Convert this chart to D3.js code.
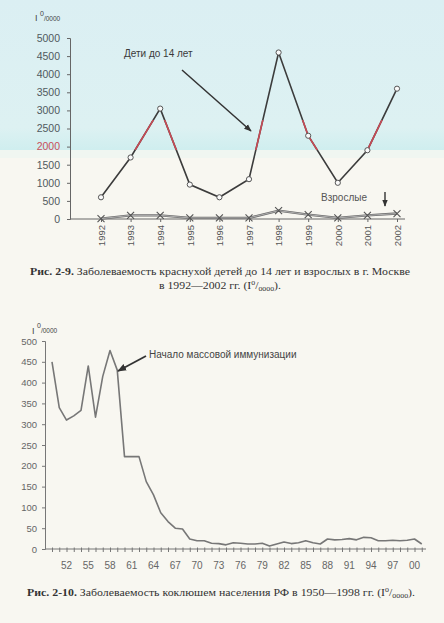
<!DOCTYPE html>
<html><head><meta charset="utf-8">
<script src="https://cdn.jsdelivr.net/npm/d3@7"></script>
<style>html,body{margin:0;padding:0;background:#f8f7f1;}svg{display:block;}</style>
</head><body>
<svg id="c" width="444" height="623"></svg>
<script>
// ---- Data: chart 1 (rubella, Moscow) ----
const rubellaYears = ["1992","1993","1994","1995","1996","1997","1998","1999","2000","2001","2002"];
const childValues = [600,1700,3050,950,600,1100,4600,2300,1000,1900,3600];
const adultValues = [10,100,100,30,30,30,230,120,30,100,150];
const rubellaTicks = [0,500,1000,1500,2000,2500,3000,3500,4000,4500,5000];

// ---- Data: chart 2 (pertussis, RF) ----
const pertYears = [1950,1951,1952,1953,1954,1955,1956,1957,1958,1959,1960,1961,1962,1963,1964,1965,1966,1967,1968,1969,1970,1971,1972,1973,1974,1975,1976,1977,1978,1979,1980,1981,1982,1983,1984,1985,1986,1987,1988,1989,1990,1991,1992,1993,1994,1995,1996,1997,1998,1999,2000,2001];
const pertValues = [450,340,310,320,333,440,317,415,477,430,222,222,222,162,130,87,66,50,48,24,20,20,14,13,10,15,14,12,12,14,7,12,17,13,15,20,15,12,24,22,23,25,22,28,27,20,20,21,20,21,24,12];
const pertTickYears = [1952,1955,1958,1961,1964,1967,1970,1973,1976,1979,1982,1985,1988,1991,1994,1997,2000];
const pertTickLabels = ["52","55","58","61","64","67","70","73","76","79","82","85","88","91","94","97","00"];
const pertYTicks = [0,50,100,150,200,250,300,350,400,450,500];

const svg = d3.select("#c");
const defs = svg.append("defs");
const g1 = defs.append("linearGradient").attr("id","bg").attr("x1",0).attr("y1",0).attr("x2",0).attr("y2",1);
g1.append("stop").attr("offset","0").attr("stop-color","#dbeff3");
g1.append("stop").attr("offset","0.85").attr("stop-color","#ddf1f2");
g1.append("stop").attr("offset","1").attr("stop-color","#cfeeef");
svg.append("rect").attr("width",444).attr("height",623).attr("fill","#f8f7f1");
svg.append("rect").attr("width",444).attr("height",150).attr("fill","url(#bg)");
svg.append("rect").attr("y",150).attr("width",444).attr("height",8).attr("fill","#eef5f1").attr("opacity",0.8);

const sans = "'Liberation Sans', Arial, sans-serif";
const serif = "'Liberation Serif', 'Times New Roman', serif";

defs.append("marker").attr("id","ah").attr("viewBox","0 0 10 10").attr("refX",9).attr("refY",5)
  .attr("markerWidth",5).attr("markerHeight",5).attr("orient","auto-start-reverse")
  .append("path").attr("d","M0,1 L10,5 L0,9 z").attr("fill","#333");

// ================= Chart 1 =================
const x1 = d3.scalePoint().domain(rubellaYears).range([101,397]);
const y1 = d3.scaleLinear().domain([0,5000]).range([219,38]);
const c1 = svg.append("g");

const ya1 = c1.append("g").attr("transform","translate(70,0)")
  .call(d3.axisLeft(y1).tickValues(rubellaTicks).tickFormat(d3.format("d")).tickSize(3).tickPadding(7));
ya1.select(".domain").attr("stroke","#666").attr("stroke-width",1);
ya1.selectAll(".tick line").attr("stroke","#666");
ya1.selectAll(".tick text").attr("font-family",sans).attr("font-size",10.5).attr("fill",d=>d===2000?"#c8505a":"#505a60");

const xa1 = c1.append("g").attr("transform","translate(0,219)")
  .call(d3.axisBottom(x1).tickSize(3).tickPadding(5));
xa1.select(".domain").attr("d","M70,0H405").attr("stroke","#666");
xa1.selectAll(".tick line").attr("stroke","#666");
xa1.selectAll(".tick text").attr("font-family",sans).attr("font-size",9.5).attr("fill","#555")
  .attr("transform","rotate(-90)").attr("text-anchor","end").attr("x",-6).attr("y",0).attr("dy","0.35em");

const u1 = c1.append("text").attr("x",35).attr("y",21).attr("font-family",sans).attr("fill","#444");
u1.append("tspan").attr("font-size",9).text("I ");
u1.append("tspan").attr("font-size",7).attr("dy",-5).text("0");
u1.append("tspan").attr("font-size",6.5).attr("dy",5).text("/0000");

defs.append("clipPath").attr("id","band").append("rect").attr("x",0).attr("y",120).attr("width",444).attr("height",30);

const line1 = d3.line().x((d,i)=>x1(rubellaYears[i])).y(d=>y1(d));
c1.append("path").datum(adultValues).attr("d",line1).attr("fill","none").attr("stroke","#6a6a6a").attr("stroke-width",2.4);
c1.append("path").datum(adultValues).attr("d",line1).attr("fill","none").attr("stroke","#cfcfcf").attr("stroke-width",0.7);
c1.append("path").datum(childValues).attr("d",line1).attr("fill","none").attr("stroke","#3c3c3c").attr("stroke-width",1.6);
c1.append("path").datum(childValues).attr("d",line1).attr("fill","none").attr("stroke","#c84a55").attr("stroke-width",1.6).attr("clip-path","url(#band)");

c1.selectAll("circle.ch").data(childValues).enter().append("circle")
  .attr("cx",(d,i)=>x1(rubellaYears[i])).attr("cy",d=>y1(d)).attr("r",2.6)
  .attr("fill","#fafafa").attr("stroke","#555").attr("stroke-width",1);

c1.selectAll("path.ad").data(adultValues).enter().append("path")
  .attr("d",(d,i)=>{const cx=x1(rubellaYears[i]), cy=y1(d), s=3.5;
    return `M${cx-s},${cy-s}L${cx+s},${cy+s}M${cx-s},${cy+s}L${cx+s},${cy-s}`;})
  .attr("stroke","#555").attr("stroke-width",1.1).attr("fill","none");

c1.append("text").attr("x",124).attr("y",57).attr("font-family",sans).attr("font-size",10).attr("fill","#3a3a3a").text("Дети до 14 лет");
c1.append("line").attr("x1",182).attr("y1",70).attr("x2",251).attr("y2",131).attr("stroke","#333").attr("stroke-width",1.5).attr("marker-end","url(#ah)");
c1.append("text").attr("x",321).attr("y",201).attr("font-family",sans).attr("font-size",10).attr("fill","#555").text("Взрослые");
c1.append("line").attr("x1",385).attr("y1",192).attr("x2",385).attr("y2",206).attr("stroke","#333").attr("stroke-width",1.4).attr("marker-end","url(#ah)");

// caption 1
const cap1 = svg.append("text").attr("x",30).attr("y",275).attr("font-family",serif).attr("font-size",10.5).attr("fill","#333")
  .attr("textLength",380).attr("lengthAdjust","spacingAndGlyphs");
cap1.append("tspan").attr("font-weight","bold").text("Рис. 2-9. ");
cap1.append("tspan").text("Заболеваемость краснухой детей до 14 лет и взрослых в г. Москве");
const cap1b = svg.append("text").attr("x",159).attr("y",289).attr("font-family",serif).attr("font-size",10.5).attr("fill","#333")
  .attr("textLength",122).attr("lengthAdjust","spacingAndGlyphs");
cap1b.append("tspan").text("в 1992—2002 гг. (I");
cap1b.append("tspan").attr("font-size",7).attr("dy",-4).text("0");
cap1b.append("tspan").attr("dy",4).text("/");
cap1b.append("tspan").attr("font-size",7).attr("dy",2).text("0000");
cap1b.append("tspan").attr("dy",-2).text(").");

// ================= Chart 2 =================
const x2 = d3.scaleLinear().domain([1950,2001]).range([52,421.75]);
const y2 = d3.scaleLinear().domain([0,500]).range([549,341]);
const c2 = svg.append("g");

const ya2 = c2.append("g").attr("transform","translate(45,0)")
  .call(d3.axisLeft(y2).tickValues(pertYTicks).tickSize(3).tickPadding(5));
ya2.select(".domain").attr("stroke","#777");
ya2.selectAll(".tick line").attr("stroke","#777");
ya2.selectAll(".tick text").attr("font-family",sans).attr("font-size",9.5).attr("fill","#666");

const xa2 = c2.append("g").attr("transform","translate(0,549)")
  .call(d3.axisBottom(x2).tickValues(pertYears).tickSize(3).tickFormat(""));
xa2.select(".domain").attr("d","M45,0H426").attr("stroke","#777");
xa2.selectAll(".tick line").attr("stroke","#777").attr("y1",-1.5);
c2.append("g").selectAll("text").data(pertTickLabels).enter().append("text")
  .attr("x",(d,i)=>x2(pertTickYears[i])).attr("y",569).attr("text-anchor","middle")
  .attr("font-family",sans).attr("font-size",10).attr("fill","#666").text(d=>d);

const u2 = c2.append("text").attr("x",32).attr("y",334).attr("font-family",sans).attr("fill","#444");
u2.append("tspan").attr("font-size",9).text("I ");
u2.append("tspan").attr("font-size",7).attr("dy",-6).text("0");
u2.append("tspan").attr("font-size",6.5).attr("dy",5).text("/0000");

const line2 = d3.line().x((d,i)=>x2(pertYears[i])).y(d=>y2(d));
c2.append("path").datum(pertValues).attr("d",line2).attr("fill","none").attr("stroke","#777").attr("stroke-width",1.6).attr("stroke-linejoin","round");

c2.append("text").attr("x",149).attr("y",358).attr("font-family",sans).attr("font-size",10).attr("fill","#444").text("Начало массовой иммунизации");
c2.append("line").attr("x1",146).attr("y1",356).attr("x2",118).attr("y2",371).attr("stroke","#333").attr("stroke-width",1.8).attr("marker-end","url(#ah)");

// caption 2
const cap2 = svg.append("text").attr("x",27).attr("y",596).attr("font-family",serif).attr("font-size",10.5).attr("fill","#333")
  .attr("textLength",388).attr("lengthAdjust","spacingAndGlyphs");
cap2.append("tspan").attr("font-weight","bold").text("Рис. 2-10. ");
cap2.append("tspan").text("Заболеваемость коклюшем населения РФ в 1950—1998 гг. (I");
cap2.append("tspan").attr("font-size",7).attr("dy",-4).text("0");
cap2.append("tspan").attr("dy",4).text("/");
cap2.append("tspan").attr("font-size",7).attr("dy",2).text("0000");
cap2.append("tspan").attr("dy",-2).text(").");
</script>
</body></html>
